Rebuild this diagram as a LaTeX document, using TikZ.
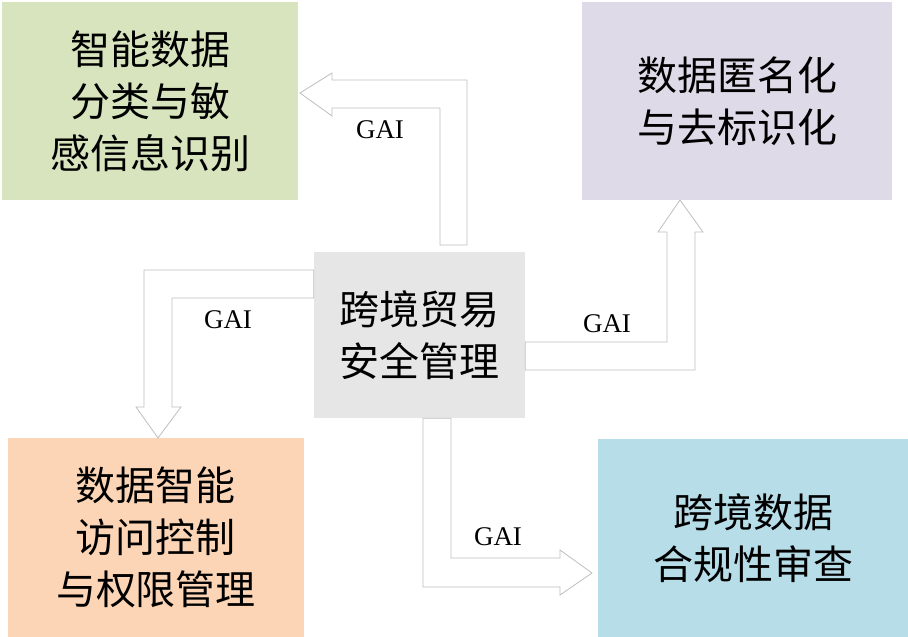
\documentclass[tikz,border=0pt]{standalone}
\usepackage{fontspec}
\setmainfont{Liberation Serif}
\newfontfamily\cjk{Noto Sans CJK SC}
\usetikzlibrary{positioning,calc}
\definecolor{greenbox}{HTML}{D7E4BD}
\definecolor{purplebox}{HTML}{DFDAE7}
\definecolor{graybox}{HTML}{E6E6E6}
\definecolor{orangebox}{HTML}{FBD5B5}
\definecolor{bluebox}{HTML}{B7DDE8}
\definecolor{arrowline}{HTML}{BFBFBF}
\tikzset{
	box/.style={inner sep=0pt, align=center, font=\cjk\fontsize{40}{52}\selectfont},
	blockarrow/.style={draw=arrowline, fill=white, line width=0.8pt, line join=miter},
	gai/.style={inner sep=0pt, font=\fontsize{27}{30}\selectfont}
}

\begin{document}
\begin{tikzpicture}[x=1pt, y=-1pt]
		%%%%% START %%%%%
		\useasboundingbox (0, 0) rectangle (908, 637);
		
		\node[box, fill=graybox, minimum width=211pt, minimum height=166pt] (trade) at (419.5, 335) {跨境贸易\\安全管理};
		
		\node[box, fill=greenbox, minimum width=296pt, minimum height=198pt] (classify) at (150, 101) {智能数据\\分类与敏\\感信息识别};
		\node[box, fill=purplebox, minimum width=310pt, minimum height=198pt] (anon) at (737, 101) {数据匿名化\\与去标识化};
		\node[box, fill=orangebox, minimum width=296pt, minimum height=199pt] (access) at (156, 537.5) {数据智能\\访问控制\\与权限管理};
		\node[box, fill=bluebox, minimum width=310pt, minimum height=198pt] (audit) at (753, 538) {跨境数据\\合规性审查};
		
		% trade -> classify
		\draw[blockarrow] (440, 245) -- (440, 108) -- (332, 108) -- (332, 116) -- (300, 93)
			-- (332, 73) -- (332, 80) -- (467, 80) -- (467, 245) -- cycle;
		\node[gai] (gaiA) at (380, 130) {GAI};
		
		% trade -> access
		\draw[blockarrow] (trade.west |- 0, 270) -- (144, 270) -- (144, 407) -- (136, 407) -- (158, 438)
			-- (181, 407) -- (172, 407) -- (172, 298) -- (trade.west |- 0, 298) -- cycle;
		\node[gai] (gaiB) at (228, 320) {GAI};
		
		% trade -> anon
		\draw[blockarrow] (trade.east |- 0, 342) -- (667, 342) -- (667, 232) -- (658, 232) -- (680, 200)
			-- (703, 232) -- (695, 232) -- (695, 370) -- (trade.east |- 0, 370) -- cycle;
		\node[gai] (gaiC) at (607, 324) {GAI};
		
		% trade -> audit
		\draw[blockarrow] (423, 0 |- trade.south) -- (423, 587) -- (560, 587) -- (560, 595) -- (592, 573)
			-- (560, 550) -- (560, 558) -- (451, 558) -- (451, 0 |- trade.south) -- cycle;
		\node[gai] (gaiD) at (498, 537) {GAI};
		
		%%%%% END %%%%%
\end{tikzpicture}
\end{document}
